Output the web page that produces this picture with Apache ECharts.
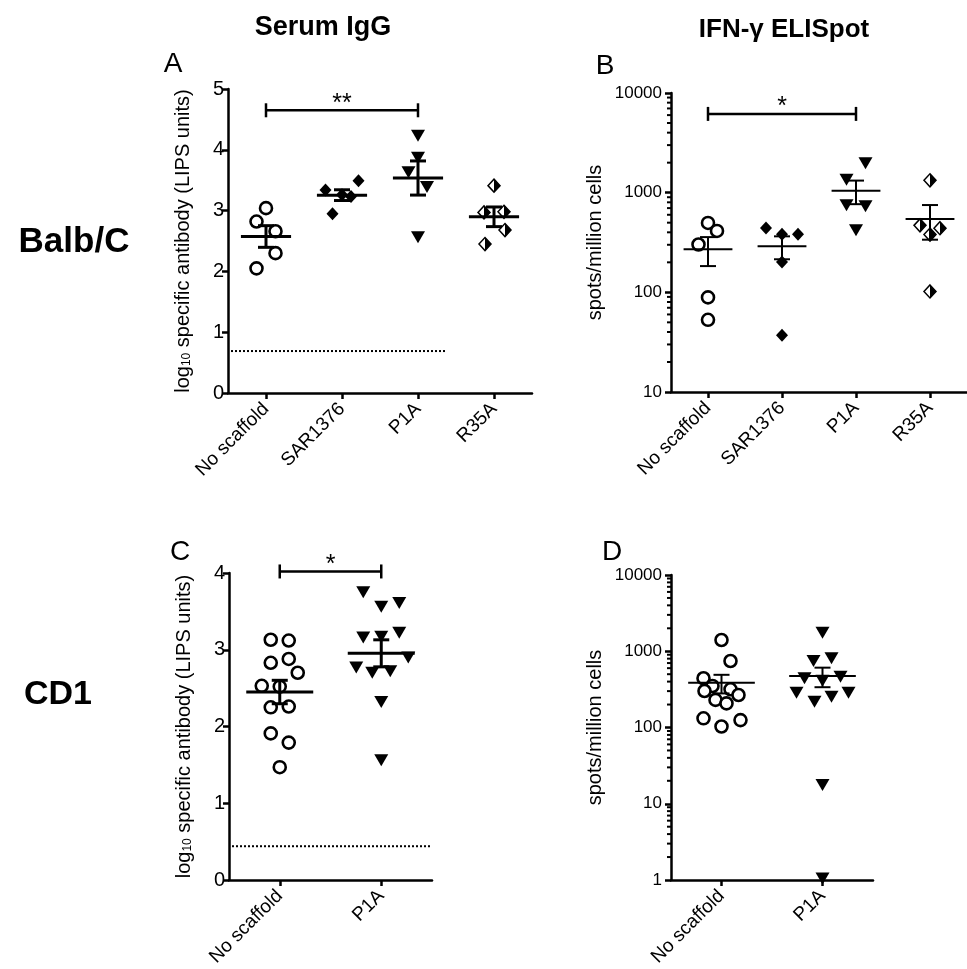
<!DOCTYPE html>
<html><head><meta charset="utf-8">
<script src="https://cdn.jsdelivr.net/npm/echarts@6/dist/echarts.min.js"></script>
<style>html,body{margin:0;padding:0;background:#fff}#c{width:967px;height:969px}</style>
</head><body><div id="c"></div>
<script>
// ---------------- DATA ----------------
const categoriesBalb = ['No scaffold', 'SAR1376', 'P1A', 'R35A'];
const categoriesCD1 = ['No scaffold', 'P1A'];

const ticksIgGBalb = [0, 1, 2, 3, 4, 5];
const ticksIgGCD1 = [0, 1, 2, 3, 4];
const ticksElispotBalb = [10, 100, 1000, 10000];
const ticksElispotCD1 = [1, 10, 100, 1000, 10000];

// Panel A: Serum IgG, Balb/C (log10 LIPS units)
const igGBalbNoScaffold = [3.04, 2.82, 2.66, 2.30, 2.05];
const igGBalbSAR1376 = [3.34, 2.95, 3.26, 3.23, 3.49];
const igGBalbP1A = [4.23, 3.87, 3.63, 3.39, 2.56];
const igGBalbR35A = [3.41, 2.97, 2.98, 2.68, 2.45];
const igGBalbCutoff = [0.69];
const igGBalbSig = [[0, 2, 4.65]];
const igGBalbSigLabel = ['**'];

// Panel B: IFN-gamma ELISpot, Balb/C (spots/million cells)
const elispotBalbNoScaffold = [497, 413, 302, 89, 53];
const elispotBalbSAR1376 = [443, 383, 383, 202, 37];
const elispotBalbP1A = [1977, 1349, 746, 729, 420];
const elispotBalbR35A = [1330, 470, 440, 380, 102];
const elispotBalbSig = [[0, 2, 6170]];
const elispotBalbSigLabel = ['*'];

// Panel C: Serum IgG, CD1
const igGCD1NoScaffold = [3.13, 3.12, 2.83, 2.88, 2.70, 2.53, 2.52, 2.25, 2.26, 1.91, 1.79, 1.47];
const igGCD1P1A = [3.75, 3.56, 3.61, 3.16, 3.17, 3.22, 2.90, 2.77, 2.70, 2.72, 2.32, 1.56];
const igGCD1Cutoff = [0.44];
const igGCD1Sig = [[0, 1, 4.02]];
const igGCD1SigLabel = ['*'];

// Panel D: IFN-gamma ELISpot, CD1
const elispotCD1NoScaffold = [1406, 745, 442, 350, 317, 301, 267, 230, 207, 132, 125, 103];
const elispotCD1P1A = [1750, 745, 808, 442, 411, 464, 286, 218, 253, 286, 17.6, 1.05];

// ---------------- LAYOUT (horizontal scatter offsets in px) ----------------
const jitA = [[0,-9.5,9.5,9.5,-9.5],[-16.5,-9.5,0,9,16.5],[0,0,-9.5,9,0],[0,-10,10,11,-9]];
const jitB = [[0,9,-9.5,0,0],[-16,0,16,0,0],[9.5,-9.5,-9.5,9.5,0],[0,-10,10,0,0]];
const jitC = [[-9,9,-9,9,18,-18,0,-9,9,-9,9,0],[-18,0,18,-18,0,18,27,-25,-9,9,0,0]];
const jitD = [[0,9,-18,-9,9,-17,17,-6,5,-18,19,0],[0,-9,9,-18,0,18,-26,-8,9,26,0,0]];

const FONT = "'Liberation Sans', Arial, Helvetica, sans-serif";
const BLACK = '#000';

function meanSem(arr) {
  const n = arr.length;
  const m = arr.reduce((a, b) => a + b, 0) / n;
  const sd = Math.sqrt(arr.reduce((a, b) => a + (b - m) * (b - m), 0) / (n - 1));
  return [m, sd / Math.sqrt(n)];
}

const SYM = {
  open: { symbol: 'circle', symbolSize: 12, itemStyle: { color: '#fff', borderColor: BLACK, borderWidth: 2.6, opacity: 1 } },
  diamond: { symbol: 'diamond', symbolSize: [12, 13], itemStyle: { color: BLACK, opacity: 1 } },
  tri: { symbol: 'triangle', symbolSize: [14, 12], symbolRotate: 180, itemStyle: { color: BLACK, opacity: 1 } },
  halfOpen: { symbol: 'diamond', symbolSize: [12, 13], itemStyle: { color: '#fff', borderColor: BLACK, borderWidth: 1.5, opacity: 1 } },
  halfFill: { symbol: 'path://M0,0L10,10L0,20Z', symbolSize: [6, 13], itemStyle: { color: BLACK, opacity: 1 } }
};

function scatter(gi, cat, values, jit, sym, extraOff) {
  const s = SYM[sym];
  return {
    type: 'scatter', xAxisIndex: gi, yAxisIndex: gi, z: 3, clip: false,
    symbol: s.symbol, symbolSize: s.symbolSize, symbolRotate: s.symbolRotate || 0,
    itemStyle: s.itemStyle, emphasis: { disabled: true }, silent: true,
    data: values.map((v, i) => ({ value: [cat, v], symbolOffset: [jit[i] + (extraOff || 0), 0] }))
  };
}

function meanSemSeries(gi, groups, nCat, lw) {
  return {
    type: 'custom', xAxisIndex: gi, yAxisIndex: gi, z: 5, clip: false, silent: true,
    data: groups.map((g, i) => { const ms = meanSem(g); return [i, ms[0], ms[1]]; }),
    renderItem: function (params, api) {
      const cs = params.coordSys;
      const band = cs.width / nCat;
      const c = api.value(0), m = api.value(1), s = api.value(2);
      const pm = api.coord([c, m]);
      const pt = api.coord([c, m + s]);
      const pb = api.coord([c, Math.max(m - s, 1e-6)]);
      const half = band * 0.33, cap = 8;
      const st = { stroke: BLACK, lineWidth: lw };
      return { type: 'group', children: [
        { type: 'line', shape: { x1: pm[0] - half, y1: pm[1], x2: pm[0] + half, y2: pm[1] }, style: st },
        { type: 'line', shape: { x1: pt[0], y1: pt[1], x2: pb[0], y2: pb[1] }, style: st },
        { type: 'line', shape: { x1: pt[0] - cap, y1: pt[1], x2: pt[0] + cap, y2: pt[1] }, style: st },
        { type: 'line', shape: { x1: pb[0] - cap, y1: pb[1], x2: pb[0] + cap, y2: pb[1] }, style: st }
      ] };
    }
  };
}

function sigSeries(gi, sig, labels) {
  return {
    type: 'custom', xAxisIndex: gi, yAxisIndex: gi, z: 5, clip: false, silent: true,
    data: sig,
    renderItem: function (params, api) {
      const p1 = api.coord([api.value(0), api.value(2)]);
      const p2 = api.coord([api.value(1), api.value(2)]);
      const st = { stroke: BLACK, lineWidth: 2.5 };
      return { type: 'group', children: [
        { type: 'line', shape: { x1: p1[0], y1: p1[1], x2: p2[0], y2: p2[1] }, style: st },
        { type: 'line', shape: { x1: p1[0], y1: p1[1] - 7, x2: p1[0], y2: p1[1] + 7 }, style: st },
        { type: 'line', shape: { x1: p2[0], y1: p2[1] - 7, x2: p2[0], y2: p2[1] + 7 }, style: st },
        { type: 'text', style: { text: labels[params.dataIndex], x: (p1[0] + p2[0]) / 2, y: p1[1] + 6,
          align: 'center', verticalAlign: 'bottom', font: '25px ' + FONT, fill: BLACK } }
      ] };
    }
  };
}

function cutoffSeries(gi, vals, frac) {
  return {
    type: 'custom', xAxisIndex: gi, yAxisIndex: gi, z: 2, clip: false, silent: true,
    data: vals.map(v => [0, v]),
    renderItem: function (params, api) {
      const cs = params.coordSys;
      const p = api.coord([0, api.value(1)]);
      return { type: 'line', shape: { x1: cs.x + 3, y1: p[1], x2: cs.x + cs.width * frac, y2: p[1] },
        style: { stroke: BLACK, lineWidth: 2, lineDash: [2, 2] } };
    }
  };
}

function logMinorSeries(gi, ticks) {
  const minors = [];
  for (let k = 0; k < ticks.length - 1; k++) for (let j = 2; j <= 9; j++) minors.push([0, ticks[k] * j]);
  return {
    type: 'custom', xAxisIndex: gi, yAxisIndex: gi, z: 4, clip: false, silent: true,
    data: minors,
    renderItem: function (params, api) {
      const cs = params.coordSys;
      const p = api.coord([0, api.value(1)]);
      return { type: 'line', shape: { x1: cs.x - 4, y1: p[1], x2: cs.x, y2: p[1] },
        style: { stroke: BLACK, lineWidth: 2 } };
    }
  };
}

const axisLine = { show: true, lineStyle: { color: BLACK, width: 2.5 } };
const axisTick = { show: true, inside: false, length: 6, lineStyle: { color: BLACK, width: 2.5 } };

function xAxis(gi, cats) {
  return {
    type: 'category', gridIndex: gi, data: cats, boundaryGap: true,
    axisLine: axisLine, axisTick: Object.assign({ alignWithLabel: true, interval: 0 }, axisTick),
    axisLabel: { rotate: 45, interval: 0, margin: 13, color: BLACK, fontSize: 19, fontFamily: FONT },
    splitLine: { show: false }
  };
}

const nameRich = {
  n: { fontSize: 20, fontFamily: FONT, color: BLACK },
  s: { fontSize: 12, fontFamily: FONT, color: BLACK, padding: [8, 0, 0, 0] }
};

function yLin(gi, ticks) {
  return {
    type: 'value', gridIndex: gi, min: ticks[0], max: ticks[ticks.length - 1], interval: ticks[1] - ticks[0],
    axisLine: axisLine, axisTick: axisTick,
    axisLabel: { color: BLACK, fontSize: 20, fontFamily: FONT, margin: 4 },
    splitLine: { show: false },
    name: '{n|log}{s|10}{n| specific antibody (LIPS units)}',
    nameLocation: 'middle', nameGap: 35, nameRotate: 90,
    nameTextStyle: { rich: nameRich }
  };
}

function yLog(gi, ticks) {
  return {
    type: 'log', logBase: 10, gridIndex: gi, min: ticks[0], max: ticks[ticks.length - 1],
    axisLine: axisLine, axisTick: axisTick,
    axisLabel: { color: BLACK, fontSize: 17, fontFamily: FONT, margin: 9, formatter: v => String(Math.round(v)) },
    splitLine: { show: false }, minorTick: { show: false },
    name: 'spots/million cells', nameLocation: 'middle', nameGap: 66, nameRotate: 90,
    nameTextStyle: { fontSize: 20, fontFamily: FONT, color: BLACK }
  };
}

const series = [
  // Panel A
  cutoffSeries(0, igGBalbCutoff, 0.714),
  scatter(0, 0, igGBalbNoScaffold, jitA[0], 'open'),
  scatter(0, 1, igGBalbSAR1376, jitA[1], 'diamond'),
  scatter(0, 2, igGBalbP1A, jitA[2], 'tri'),
  scatter(0, 3, igGBalbR35A, jitA[3], 'halfOpen'),
  scatter(0, 3, igGBalbR35A, jitA[3], 'halfFill', 3),
  meanSemSeries(0, [igGBalbNoScaffold, igGBalbSAR1376, igGBalbP1A, igGBalbR35A], 4, 3),
  sigSeries(0, igGBalbSig, igGBalbSigLabel),
  // Panel B
  logMinorSeries(1, ticksElispotBalb),
  scatter(1, 0, elispotBalbNoScaffold, jitB[0], 'open'),
  scatter(1, 1, elispotBalbSAR1376, jitB[1], 'diamond'),
  scatter(1, 2, elispotBalbP1A, jitB[2], 'tri'),
  scatter(1, 3, elispotBalbR35A, jitB[3], 'halfOpen'),
  scatter(1, 3, elispotBalbR35A, jitB[3], 'halfFill', 3),
  meanSemSeries(1, [elispotBalbNoScaffold, elispotBalbSAR1376, elispotBalbP1A, elispotBalbR35A], 4, 2),
  sigSeries(1, elispotBalbSig, elispotBalbSigLabel),
  // Panel C
  cutoffSeries(2, igGCD1Cutoff, 1),
  scatter(2, 0, igGCD1NoScaffold, jitC[0], 'open'),
  scatter(2, 1, igGCD1P1A, jitC[1], 'tri'),
  meanSemSeries(2, [igGCD1NoScaffold, igGCD1P1A], 2, 3),
  sigSeries(2, igGCD1Sig, igGCD1SigLabel),
  // Panel D
  logMinorSeries(3, ticksElispotCD1),
  scatter(3, 0, elispotCD1NoScaffold, jitD[0], 'open'),
  scatter(3, 1, elispotCD1P1A, jitD[1], 'tri'),
  meanSemSeries(3, [elispotCD1NoScaffold, elispotCD1P1A], 2, 2)
];

function txt(text, x, y, size, bold) {
  return { type: 'text', x: x, y: y, silent: true,
    style: { text: text, fill: BLACK, font: (bold ? 'bold ' : '') + size + 'px ' + FONT, align: 'center', verticalAlign: 'middle' } };
}

const chart = echarts.init(document.getElementById('c'), null, { renderer: 'canvas' });
chart.setOption({
  animation: false,
  backgroundColor: '#fff',
  grid: [
    { left: 228, top: 89, width: 304, height: 304 },
    { left: 671, top: 93, width: 300, height: 299 },
    { left: 229, top: 573, width: 203, height: 307 },
    { left: 671, top: 575, width: 202, height: 305 }
  ],
  xAxis: [xAxis(0, categoriesBalb), xAxis(1, categoriesBalb), xAxis(2, categoriesCD1), xAxis(3, categoriesCD1)],
  yAxis: [yLin(0, ticksIgGBalb), yLog(1, ticksElispotBalb), yLin(2, ticksIgGCD1), yLog(3, ticksElispotCD1)],
  series: series,
  graphic: [
    txt('Serum IgG', 323, 28, 27, true),
    txt('IFN-\u03b3 ELISpot', 784, 30, 26, true),
    txt('Balb/C', 74, 242, 35, true),
    txt('CD1', 58, 695, 34, true),
    txt('A', 173, 64, 28, false),
    txt('B', 605, 66, 28, false),
    txt('C', 180, 552, 28, false),
    txt('D', 612, 552, 28, false)
  ]
});
</script>
</body></html>
